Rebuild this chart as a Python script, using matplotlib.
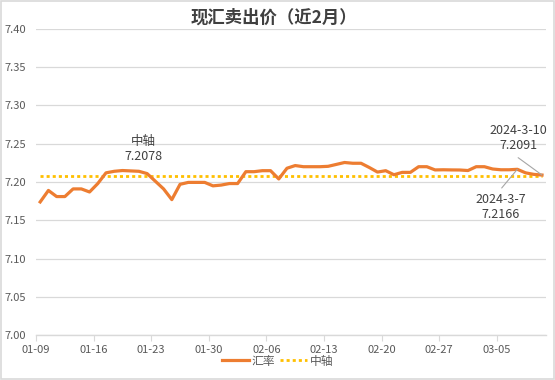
import matplotlib
matplotlib.use("Agg")
import matplotlib.pyplot as plt
import numpy as np
import pandas as pd

plt.rcParams['font.family'] = ['Noto Sans CJK SC', 'DejaVu Sans']

# daily quotes, 2024-01-09 .. 2024-03-10
dates = pd.date_range("2024-01-09", "2024-03-10", freq="D")
rate = [7.174, 7.189, 7.181, 7.181, 7.191, 7.191, 7.187, 7.198, 7.212, 7.214,
        7.215, 7.2145, 7.214, 7.211, 7.201, 7.191, 7.177, 7.197, 7.1995, 7.1995,
        7.1995, 7.195, 7.196, 7.198, 7.198, 7.2135, 7.2135, 7.2148, 7.2148, 7.204,
        7.218, 7.2215, 7.22, 7.22, 7.22, 7.2205, 7.223, 7.2255, 7.2245, 7.2245,
        7.219, 7.213, 7.2148, 7.2095, 7.2126, 7.2126, 7.22, 7.22, 7.2158, 7.216,
        7.2158, 7.2157, 7.215, 7.22, 7.22, 7.217, 7.216, 7.216, 7.2166, 7.212,
        7.21, 7.2091]
median = 7.2078

x = np.arange(len(dates))
labels = [d.strftime("%m-%d") for d in dates]

fig = plt.figure(figsize=(5.55, 3.80), dpi=100)
ax = fig.add_axes([0.065, 0.118, 0.919, 0.806])

grid_c = "#D9D9D9"
text_c = "#595959"
ann_c = "#404040"

ax.plot(x, rate, color="#ED7D31", lw=2.3, solid_joinstyle="round", label="汇率", zorder=3)
ax.plot(x, [median] * len(x), color="#FFC000", lw=2.0, linestyle=(0, (1.1, 1.1)),
        label="中轴", zorder=2)

yt = np.arange(7.0, 7.401, 0.05)
ax.set_ylim(7.0, 7.4)
ax.set_yticks(yt)
ax.set_yticklabels([f"{v:.2f}" for v in yt])
ax.set_xlim(-0.5, len(x) - 0.5)
tick_idx = list(range(0, len(x), 7))
ax.set_xticks([i - 0.5 for i in tick_idx])
ax.set_xticklabels([labels[i] for i in tick_idx])

ax.grid(axis="y", color=grid_c, lw=0.9)
ax.set_axisbelow(True)
for s in ["top", "right", "left"]:
    ax.spines[s].set_visible(False)
ax.spines["bottom"].set_color(grid_c)
ax.spines["bottom"].set_linewidth(1.0)
ax.tick_params(axis="y", length=0, labelsize=8, colors=text_c, pad=7)
ax.tick_params(axis="x", length=4, color=grid_c, labelsize=8, labelcolor=text_c, pad=3)

fig.text(0.494, 0.953, "现汇卖出价（近2月）", ha="center", va="center",
         fontsize=12.5, fontweight="bold", color="#404040")

# annotations
ax.text(12.5, 7.2523, "中轴", ha="center", va="center", fontsize=9, color=ann_c)
ax.text(12.5, 7.2327, f"{median:.4f}", ha="center", va="center", fontsize=9, color=ann_c)

last = len(x) - 1
ax.annotate("", xy=(last, rate[last]), xytext=(58.1, 7.2318),
            arrowprops=dict(arrowstyle="-", color="#A6A6A6", lw=0.8,
                            shrinkA=0, shrinkB=0))
ax.text(58.1, 7.2667, "2024-3-10", ha="center", va="center", fontsize=9, color=ann_c)
ax.text(58.1, 7.2471, f"{rate[last]:.4f}", ha="center", va="center", fontsize=9, color=ann_c)

ax.annotate("", xy=(58, rate[58]), xytext=(56.1, 7.1922),
            arrowprops=dict(arrowstyle="-", color="#A6A6A6", lw=0.8,
                            shrinkA=0, shrinkB=0))
ax.text(56, 7.1778, "2024-3-7", ha="center", va="center", fontsize=9, color=ann_c)
ax.text(56, 7.1582, f"{rate[58]:.4f}", ha="center", va="center", fontsize=9, color=ann_c)

fig.legend(loc="center", bbox_to_anchor=(0.5, 0.05), ncol=2, frameon=False,
           fontsize=8.5, handlelength=2.3, handletextpad=0.25, columnspacing=0.4,
           labelcolor=text_c)

# outer border
fig.patches.append(plt.Rectangle((0.002, 0.003), 0.996, 0.994, transform=fig.transFigure,
                                 fill=False, edgecolor=grid_c, lw=1.2))

fig.savefig("out.png", dpi=100)
